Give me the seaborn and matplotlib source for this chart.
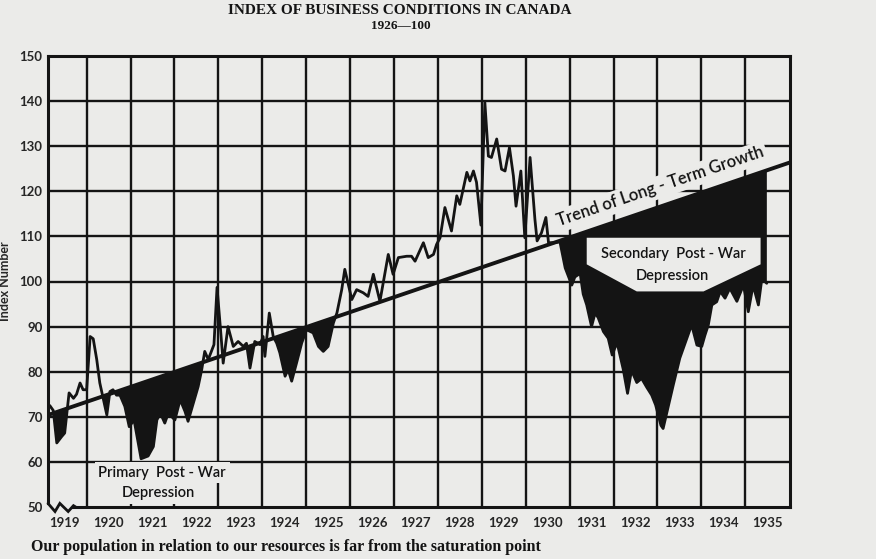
import numpy as np
import pandas as pd
import seaborn as sns
import matplotlib.pyplot as plt
from matplotlib.patches import Polygon

# index readings (decimal year, index 1926 = 100)
years = [1919.16, 1919.24, 1919.32, 1919.43, 1919.50, 1919.55, 1919.60, 1919.70,
         1919.77, 1919.85, 1919.92, 1920.00, 1920.08, 1920.15, 1920.23, 1920.30,
         1920.46, 1920.53, 1920.60, 1920.68, 1920.76, 1920.87, 1920.97, 1921.08,
         1921.24, 1921.40, 1921.52, 1921.60, 1921.68, 1921.78, 1921.86, 1922.01,
         1922.13, 1922.24, 1922.31, 1922.43, 1922.54, 1922.62, 1922.69, 1922.77,
         1922.90, 1922.97, 1923.05, 1923.11, 1923.22, 1923.34, 1923.45, 1923.57,
         1923.64, 1923.72, 1923.83, 1923.95, 1924.02, 1924.06, 1924.16, 1924.25,
         1924.33, 1924.40, 1924.52, 1924.59, 1924.67, 1924.78, 1924.90, 1925.01,
         1925.16, 1925.28, 1925.39, 1925.50, 1925.62, 1925.70, 1925.81, 1925.88,
         1926.04, 1926.15, 1926.30, 1926.41, 1926.53, 1926.68, 1926.87, 1926.98,
         1927.10, 1927.29, 1927.40, 1927.48, 1927.55, 1927.67, 1927.78, 1927.90,
         1927.97, 1928.05, 1928.16, 1928.31, 1928.43, 1928.50, 1928.66, 1928.73,
         1928.81, 1928.88, 1928.98, 1929.07, 1929.15, 1929.22, 1929.34, 1929.45,
         1929.53, 1929.63, 1929.72, 1929.78, 1929.89, 1929.98, 1930.10, 1930.21,
         1930.26, 1930.36, 1930.46, 1930.52, 1930.65, 1930.78, 1930.90, 1931.05,
         1931.12, 1931.24, 1931.31, 1931.39, 1931.50, 1931.58, 1931.65, 1931.77,
         1931.88, 1931.97, 1932.08, 1932.22, 1932.32, 1932.41, 1932.53, 1932.64,
         1932.76, 1932.87, 1932.96, 1933.08, 1933.13, 1933.36, 1933.51, 1933.67,
         1933.78, 1933.90, 1934.01, 1934.08, 1934.16, 1934.24, 1934.35, 1934.43,
         1934.54, 1934.65, 1934.81, 1934.96, 1935.07, 1935.18, 1935.30, 1935.38,
         1935.49]
index_vals = [72.5, 71.4, 64.2, 65.6, 66.4, 70.8, 75.3, 74.1,
              75.0, 77.5, 76.0, 76.0, 87.8, 87.3, 82.7, 77.5,
              70.4, 75.6, 76.0, 74.8, 74.8, 72.3, 67.8, 69.3,
              60.7, 61.3, 63.4, 69.3, 70.8, 68.6, 70.8, 69.3,
              73.8, 71.2, 69.0, 73.0, 76.7, 80.4, 84.5, 82.7,
              86.0, 98.7, 89.3, 81.9, 90.0, 85.6, 86.7, 85.6,
              86.3, 80.8, 86.7, 86.0, 87.8, 83.4, 93.0, 87.8,
              86.3, 84.2, 79.0, 80.5, 77.9, 81.9, 86.4, 89.3,
              88.6, 85.6, 84.5, 85.6, 90.8, 93.0, 98.2, 102.7,
              96.0, 98.2, 97.5, 96.7, 101.6, 95.6, 106.0, 101.6,
              105.3, 105.6, 105.6, 104.5, 106.0, 108.6, 105.3, 106.0,
              108.2, 109.7, 116.4, 111.2, 119.0, 117.1, 124.2, 122.3,
              124.5, 122.0, 112.5, 139.7, 127.8, 127.5, 131.6, 124.9,
              124.5, 129.7, 123.4, 116.7, 124.5, 109.7, 127.5, 113.8,
              109.0, 110.8, 114.2, 108.6, 108.6, 108.8, 103.0, 99.2,
              101.0, 101.8, 97.2, 94.8, 90.0, 93.0, 92.0, 88.9,
              87.4, 83.7, 86.5, 80.6, 75.2, 80.3, 77.6, 78.5,
              76.5, 74.8, 72.6, 68.1, 67.4, 77.0, 83.0, 87.4,
              90.4, 85.9, 85.6, 88.0, 90.4, 94.8, 95.5, 97.8,
              96.3, 98.5, 95.6, 99.2, 93.3, 99.2, 94.8, 100.7,
              99.6]

# straight trend of long-term growth, read at the two frame edges
trend_years = [1919.12, 1936.02]
trend_vals = [70.4, 126.4]

year_labels = [str(y) for y in range(1919, 1936)]
y_ticks = list(range(50, 151, 10))

paper = '#ebebe9'
ink = '#141414'

sns.set_theme(style='white')
plt.rcParams['font.family'] = ['Lato', 'DejaVu Sans']
plt.rcParams['text.color'] = ink

fig, ax = plt.subplots(figsize=(8.76, 5.59), dpi=100)
fig.patch.set_facecolor(paper)
ax.set_facecolor(paper)
fig.subplots_adjust(left=48 / 876, right=790 / 876, bottom=1 - 507 / 559, top=1 - 56 / 559)

df = pd.DataFrame({'year': years, 'index': index_vals})
df['trend'] = np.interp(df['year'], trend_years, trend_vals)

# black areas where business fell below the trend
ax.fill_between(df['year'], df['index'], df['trend'], where=df['index'] < df['trend'],
                interpolate=True, color=ink, lw=0.3, zorder=2)
sns.lineplot(data=df, x='year', y='index', color=ink, lw=2.0, ax=ax, zorder=3)
sns.lineplot(x=trend_years, y=trend_vals, color=ink, lw=2.8, ax=ax, zorder=3)

ax.set_xlim(trend_years[0], trend_years[1])
ax.set_ylim(50, 150)
ax.set_xlabel('')
ax.set_ylabel('Index Number', fontsize=9, fontweight='bold')
ax.yaxis.set_label_coords(-0.05, 0.5)

ax.set_xticks(range(1920, 1936))
ax.set_xticklabels([])
ax.set_xticks([y + 0.5 for y in range(1919, 1936)], labels=year_labels, minor=True)
ax.set_yticks(y_ticks)
ax.grid(True, which='major', color=ink, lw=1.7, zorder=0)
ax.yaxis.get_gridlines()[0].set_visible(False)
ax.tick_params(which='both', length=0)
ax.tick_params(axis='x', which='minor', pad=7, labelsize=9.5)
ax.tick_params(axis='y', pad=4, labelsize=9.5)
for lbl in ax.get_xticklabels(minor=True) + ax.get_yticklabels():
    lbl.set_fontweight('bold')

for side in ['left', 'right', 'top', 'bottom']:
    ax.spines[side].set_color(ink)
    ax.spines[side].set_linewidth(2.2)
    ax.spines[side].set_zorder(4)
ax.spines['bottom'].set_bounds(1919.7, trend_years[1])
ax.spines['left'].set_bounds(50.8, 150)

# broken-axis zigzag at the bottom left
ax.plot([1919.12, 1919.28, 1919.39, 1919.58, 1919.7, 1919.75],
        [50.8, 49.0, 50.8, 49.0, 50.3, 50.0],
        color=ink, lw=2.0, clip_on=False, zorder=5, solid_joinstyle='miter')

# label on the trend line
p0 = ax.transData.transform((trend_years[0], trend_vals[0]))
p1 = ax.transData.transform((trend_years[1], trend_vals[1]))
angle = np.degrees(np.arctan2(p1[1] - p0[1], p1[0] - p0[0]))
t_c = 1933.2
v_c = np.interp(t_c, trend_years, trend_vals)
a = np.radians(angle)
d = 13.5
ax.annotate('Trend of Long - Term Growth', xy=(t_c, v_c),
            xytext=(-np.sin(a) * d, np.cos(a) * d), textcoords='offset points',
            rotation=angle, rotation_mode='anchor', ha='center', va='center',
            fontsize=12, fontweight='semibold', zorder=6,
            bbox=dict(boxstyle='square,pad=0.2', fc=paper, ec='none'))

# secondary depression label box
box = Polygon([(1931.39, 109.7), (1935.35, 109.7), (1935.35, 103.8),
               (1934.05, 97.8), (1932.53, 97.8), (1931.39, 103.8)],
              closed=True, fc=paper, ec='none', zorder=5)
ax.add_patch(box)
ax.text(1933.37, 106.0, 'Secondary  Post - War', ha='center', va='center',
        fontsize=10.5, fontweight='semibold', zorder=6)
ax.text(1933.33, 101.2, 'Depression', ha='center', va='center',
        fontsize=10.5, fontweight='semibold', zorder=6)

# primary depression label
ax.text(1921.72, 57.6, 'Primary  Post - War', ha='center', va='center',
        fontsize=10.5, fontweight='semibold', zorder=6,
        bbox=dict(boxstyle='square,pad=0.25', fc=paper, ec='none'))
ax.text(1921.64, 53.0, 'Depression', ha='center', va='center',
        fontsize=10.5, fontweight='semibold', zorder=6,
        bbox=dict(boxstyle='square,pad=0.25', fc=paper, ec='none'))

fig.text(0.456, 0.982, 'INDEX OF BUSINESS CONDITIONS IN CANADA', ha='center', va='center',
         family=['Liberation Serif', 'DejaVu Serif'], fontweight='bold', fontsize=11)
fig.text(0.457, 0.954, '1926\u2014100', ha='center', va='center',
         family=['Liberation Serif', 'DejaVu Serif'], fontweight='bold', fontsize=9.5)
fig.text(0.035, 0.008, 'Our population in relation to our resources is far from the saturation point',
         ha='left', va='bottom', family=['Liberation Serif', 'DejaVu Serif'],
         fontweight='bold', fontsize=11.5)

fig.savefig('out.png', dpi=100, facecolor=paper)
